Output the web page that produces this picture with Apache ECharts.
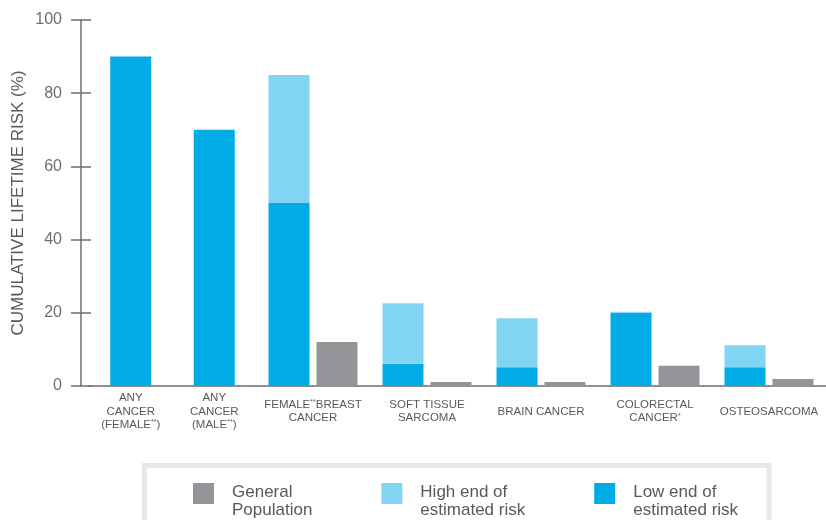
<!DOCTYPE html>
<html>
<head>
<meta charset="utf-8">
<script src="https://cdn.jsdelivr.net/npm/echarts@6/dist/echarts.min.js"></script>
<style>
html,body{margin:0;padding:0;background:#fff;}
#chart{width:826px;height:520px;}
</style>
</head>
<body>
<div id="chart"></div>
<script>
// ---- data ----
var categories = [
  'ANY\nCANCER\n(FEMALE{sup|**})',
  'ANY\nCANCER\n(MALE{sup|**})',
  'FEMALE{sup|**}BREAST\nCANCER',
  'SOFT TISSUE\nSARCOMA',
  'BRAIN CANCER',
  'COLORECTAL\nCANCER{sup|*}',
  'OSTEOSARCOMA'
];
var lowEnd = [90, 70, 50, 6.1, 5.1, 20, 5.1];
var highEnd = [90, 70, 85, 22.6, 18.5, 20.3, 11.1];
var generalPopulation = [null, null, 12, 1.1, 1.1, 5.5, 1.9];
var yTicks = [0, 20, 40, 60, 80, 100];
var names = {gen: 'General\nPopulation', high: 'High end of\nestimated risk', low: 'Low end of\nestimated risk'};

// ---- split: single-bar categories vs paired categories ----
var singleCount = 2;
var cats1 = categories.slice(0, singleCount);
var cats2 = categories.slice(singleCount);
var low1 = lowEnd.slice(0, singleCount);
var low2 = lowEnd.slice(singleCount);
var highInc2 = highEnd.slice(singleCount).map(function (h, i) { return +(h - low2[i]).toFixed(2); });
var gen2 = generalPopulation.slice(singleCount);

var C_BLUE = '#00abe6', C_LIGHT = '#82d4f3', C_GRAY = '#939598';
var AXIS = '#6d6e71', TXT = '#58595b';
var FONT = '"Liberation Sans", Arial, sans-serif';

var catLabel = {
  interval: 0, color: TXT, fontSize: 11.5, fontFamily: FONT, lineHeight: 13.5,
  verticalAlign: 'middle', margin: 25.5, align: 'center',
  rich: { sup: { fontSize: 7, color: TXT, fontFamily: FONT, padding: [0, 0, 5, 0] } }
};
function xAx(grid, data, hideFirstTick) {
  return {
    type: 'category', gridIndex: grid, data: data,
    axisLine: { lineStyle: { color: AXIS, width: 1.5 } },
    axisTick: { inside: true, length: 9, lineStyle: { color: AXIS, width: 1.5 },
      interval: hideFirstTick ? function (idx) { return idx !== 0; } : 0 },
    axisLabel: catLabel
  };
}
var yBase = { type: 'value', position: 'left', min: yTicks[0], max: yTicks[yTicks.length - 1], interval: yTicks[1] - yTicks[0], splitLine: { show: false } };

var chart = echarts.init(document.getElementById('chart'), null, { renderer: 'canvas' });
chart.setOption({
  animation: false,
  textStyle: { fontFamily: FONT },
  grid: [
    { left: 89, top: 20, width: 167, bottom: 134 },
    { left: 256, top: 20, width: 577, bottom: 134 }
  ],
  xAxis: [xAx(0, cats1, true), xAx(1, cats2, false)],
  yAxis: [
    Object.assign({}, yBase, {
      gridIndex: 0, offset: 8,
      name: 'CUMULATIVE LIFETIME RISK (%)', nameLocation: 'middle', nameGap: 54,
      nameTextStyle: { color: TXT, fontSize: 17, fontFamily: FONT },
      axisLine: { show: true, lineStyle: { color: AXIS, width: 1.5 } },
      axisTick: { show: true, length: 10, lineStyle: { color: AXIS, width: 1.5 } },
      axisLabel: { color: AXIS, fontSize: 16, margin: 19, fontFamily: FONT }
    }),
    Object.assign({}, yBase, {
      gridIndex: 0, offset: 8,
      axisLine: { show: false },
      axisTick: { show: true, inside: true, length: 10, lineStyle: { color: AXIS, width: 1.5 } },
      axisLabel: { show: false }
    }),
    Object.assign({}, yBase, { gridIndex: 1, show: false })
  ],
  legend: {
    data: [names.gen, names.high, names.low],
    left: 144.5, top: 465.5, orient: 'horizontal',
    padding: [2, 31, 40, 48.5],
    borderColor: '#e6e7e8', borderWidth: 5, backgroundColor: '#fff',
    itemWidth: 21, itemHeight: 21, itemGap: 69, icon: 'rect',
    selectedMode: false,
    formatter: function (n) { return '{s| }\n{t|' + n.split('\n').join('}\n{t|') + '}'; },
    textStyle: { color: TXT, fontSize: 17, lineHeight: 18, fontFamily: FONT, padding: [0, 0, 0, 13],
      rich: {
        s: { fontSize: 1, lineHeight: 16 },
        t: { fontSize: 17, lineHeight: 18, color: TXT, fontFamily: FONT }
      }
    }
  },
  series: [
    { name: names.low, type: 'bar', xAxisIndex: 0, yAxisIndex: 0, barWidth: 41,
      itemStyle: { color: C_BLUE }, data: low1 },
    { name: names.low, type: 'bar', xAxisIndex: 1, yAxisIndex: 2, stack: 'risk', barWidth: 41, barGap: '17%',
      itemStyle: { color: C_BLUE }, data: low2 },
    { name: names.high, type: 'bar', xAxisIndex: 1, yAxisIndex: 2, stack: 'risk', barWidth: 41, barGap: '17%',
      itemStyle: { color: C_LIGHT }, data: highInc2 },
    { name: names.gen, type: 'bar', xAxisIndex: 1, yAxisIndex: 2, barWidth: 41, barGap: '17%',
      itemStyle: { color: C_GRAY }, data: gen2 }
  ]
});
</script>
</body>
</html>
